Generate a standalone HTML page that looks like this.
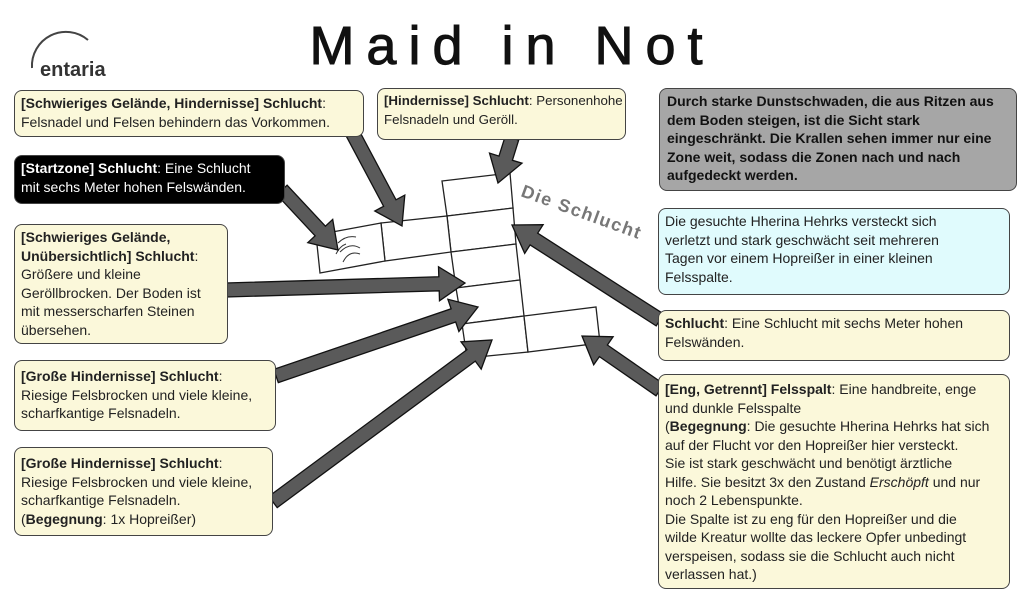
<!DOCTYPE html>
<html><head><meta charset="utf-8"><style>
body{margin:0;width:1024px;height:607px;background:#fff;position:relative;overflow:hidden;font-family:"Liberation Sans",sans-serif}
.b{position:absolute;box-sizing:border-box;border:1.5px solid #444;border-radius:8px;background:#fbf8da;font-size:14px;line-height:18.5px;color:#222;padding:3px 6px;white-space:nowrap}
b{font-weight:bold}
</style></head><body>
<svg width="1024" height="607" style="position:absolute;left:0;top:0">
<path d="M32 68 A34 34 0 0 1 88 40" fill="none" stroke="#444" stroke-width="2"/>
<text x="40" y="76" font-family="Liberation Sans Narrow,Liberation Sans,sans-serif" font-weight="bold" font-size="20" fill="#333">entaria</text>
<text x="512" y="64" text-anchor="middle" font-family="Liberation Sans,sans-serif" font-size="54" letter-spacing="12" fill="#111" stroke="#111" stroke-width="1">Maid in Not</text>
<g fill="#fff" stroke="#222" stroke-width="1.3">
<polygon points="442,181 510,173 513,208 447,216"/>
<polygon points="447,216 513,208 516,244 451,252"/>
<polygon points="451,252 516,244 520,280 456,288"/>
<polygon points="456,288 520,280 524,316 462,324"/>
<polygon points="462,324 524,316 528,352 467,358"/>
<polygon points="524,316 596,307 600,343 528,352"/>
<polygon points="381,223 447,216 451,252 385,261"/>
<polygon points="316,235 381,223 385,261 320,273"/>
</g>
<path d="M338 243 q8 -8 18 -6 M340 252 q10 -10 20 -4 M343 262 q6 -12 17 -8 M336 254 q4 -8 10 -10" fill="none" stroke="#333" stroke-width="1"/>
<text x="0" y="0" transform="translate(520,196) rotate(20)" font-family="Liberation Sans,sans-serif" font-weight="bold" font-size="18" fill="#777" letter-spacing="1.5">Die Schlucht</text>
<g id="arr"></g>
</svg>
<div class="b" style="left:14px;top:90px;width:350px;height:47px"><b>[Schwieriges Gelände, Hindernisse] Schlucht</b>:<br>Felsnadel und Felsen behindern das Vorkommen.</div>
<div class="b" style="left:377px;top:88px;width:249px;height:52px;font-size:13.3px"><b>[Hindernisse] Schlucht</b>: Personenhohe<br>Felsnadeln und Geröll.</div>
<div class="b" style="left:659px;top:88px;width:358px;height:103px;background:#a6a6a6;font-weight:bold;color:#111;padding:3px 7px">Durch starke Dunstschwaden, die aus Ritzen aus<br>dem Boden steigen, ist die Sicht stark<br>eingeschränkt. Die Krallen sehen immer nur eine<br>Zone weit, sodass die Zonen nach und nach<br>aufgedeckt werden.</div>
<div class="b" style="left:14px;top:155px;width:271px;height:49px;background:#000;color:#fff"><b>[Startzone] Schlucht</b>: Eine Schlucht<br>mit sechs Meter hohen Felswänden.</div>
<div class="b" style="left:658px;top:208px;width:352px;height:87px;background:#e0fbfd">Die gesuchte Hherina Hehrks versteckt sich<br>verletzt und stark geschwächt seit mehreren<br>Tagen vor einem Hopreißer in einer kleinen<br>Felsspalte.</div>
<div class="b" style="left:14px;top:224px;width:214px;height:120px"><b>[Schwieriges Gelände,<br>Unübersichtlich] Schlucht</b>:<br>Größere und kleine<br>Geröllbrocken. Der Boden ist<br>mit messerscharfen Steinen<br>übersehen.</div>
<div class="b" style="left:658px;top:310px;width:352px;height:51px"><b>Schlucht</b>: Eine Schlucht mit sechs Meter hohen<br>Felswänden.</div>
<div class="b" style="left:14px;top:360px;width:262px;height:71px;padding-top:6px"><b>[Große Hindernisse] Schlucht</b>:<br>Riesige Felsbrocken und viele kleine,<br>scharfkantige Felsnadeln.</div>
<div class="b" style="left:14px;top:447px;width:259px;height:89px;padding-top:6px"><b>[Große Hindernisse] Schlucht</b>:<br>Riesige Felsbrocken und viele kleine,<br>scharfkantige Felsnadeln.<br>(<b>Begegnung</b>: 1x Hopreißer)</div>
<div class="b" style="left:658px;top:374px;width:352px;height:215px;padding-top:5px"><b>[Eng, Getrennt] Felsspalt</b>: Eine handbreite, enge<br>und dunkle Felsspalte<br>(<b>Begegnung</b>: Die gesuchte Hherina Hehrks hat sich<br>auf der Flucht vor den Hopreißer hier versteckt.<br>Sie ist stark geschwächt und benötigt ärztliche<br>Hilfe. Sie besitzt 3x den Zustand <i>Erschöpft</i> und nur<br>noch 2 Lebenspunkte.<br>Die Spalte ist zu eng für den Hopreißer und die<br>wilde Kreatur wollte das leckere Opfer unbedingt<br>verspeisen, sodass sie die Schlucht auch nicht<br>verlassen hat.)</div>
<script>
var A=[[352,132,402,226],[512,138,498,183],[282,190,338,250],[226,290,465,283],[276,376,478,307],[273,502,492,340],[660,320,512,225],[660,390,582,336]];
var s='';
A.forEach(function(a){var dx=a[2]-a[0],dy=a[3]-a[1],L=Math.hypot(dx,dy),ux=dx/L,uy=dy/L,px=-uy,py=ux,h=26,w=7,hw=17;
var bx=a[2]-ux*h,by=a[3]-uy*h;
var p=[[a[0]+px*w,a[1]+py*w],[bx+px*w,by+py*w],[bx+px*hw,by+py*hw],[a[2],a[3]],[bx-px*hw,by-py*hw],[bx-px*w,by-py*w],[a[0]-px*w,a[1]-py*w]];
s+='<polygon points="'+p.map(function(q){return q[0].toFixed(1)+','+q[1].toFixed(1)}).join(' ')+'" fill="#5a5a5a" stroke="#111" stroke-width="1.3"/>';});
document.getElementById('arr').innerHTML=s;
</script>
</body></html>
